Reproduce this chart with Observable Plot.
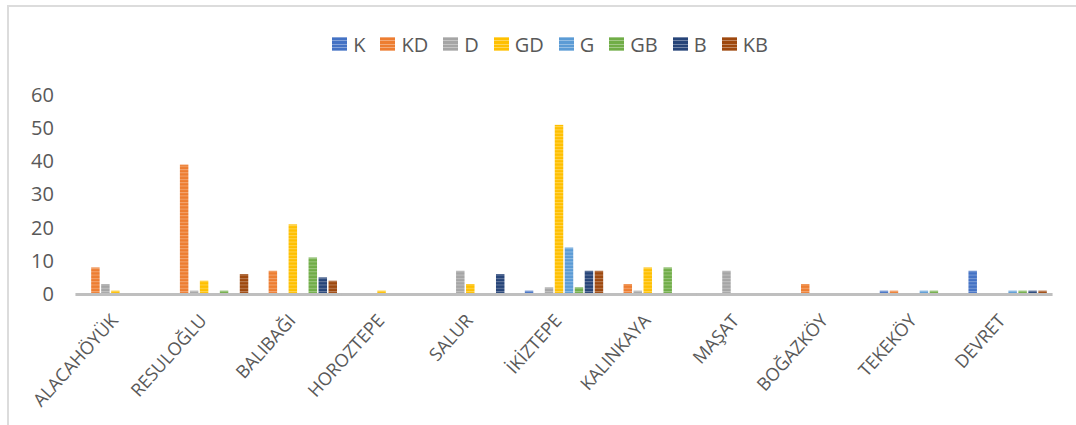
<!DOCTYPE html>
<html><head><meta charset="utf-8">
<script src="https://cdn.jsdelivr.net/npm/d3@7"></script>
<script src="https://cdn.jsdelivr.net/npm/@observablehq/plot@0.6"></script>
<style>
body{margin:0;background:#fff;font-family:"Open Sans",sans-serif;}
#wrap{position:relative;width:1076px;height:425px;overflow:hidden;background:#fff;}
#frame{position:absolute;left:7px;top:5px;width:1200px;height:600px;border-top:2px solid #dcdcdc;border-left:2px solid #dcdcdc;pointer-events:none;}
#legend{height:70px;box-sizing:border-box;padding-top:18px;padding-left:24px;display:flex;justify-content:center;align-items:center;gap:15px;font-size:20px;color:#595959;}
.item{display:flex;align-items:center;gap:6px;}
.sw{width:15px;height:14px;}
#chart svg{display:block;}
</style></head><body>
<div id="wrap"><div id="frame"></div><div id="legend"></div><div id="chart"></div></div>
<script>
const sites = ["ALACAHÖYÜK","RESULOĞLU","BALIBAĞI","HOROZTEPE","SALUR","İKİZTEPE","KALINKAYA","MAŞAT","BOĞAZKÖY","TEKEKÖY","DEVRET"];
const series = ["K","KD","D","GD","G","GB","B","KB"];
const colors = ["#4472C4","#ED7D31","#A5A5A5","#FFC000","#5B9BD5","#70AD47","#264478","#9E480E"];
const K  = [0, 0, 0, 0, 0, 1, 0, 0, 0, 1, 7];
const KD = [8, 39, 7, 0, 0, 0, 3, 0, 3, 1, 0];
const D  = [3, 1, 0, 0, 7, 2, 1, 7, 0, 0, 0];
const GD = [1, 4, 21, 1, 3, 51, 8, 0, 0, 0, 0];
const G  = [0, 0, 0, 0, 0, 14, 0, 0, 0, 1, 1];
const GB = [0, 1, 11, 0, 0, 2, 8, 0, 0, 1, 1];
const B  = [0, 0, 5, 0, 6, 7, 0, 0, 0, 0, 1];
const KB = [0, 6, 4, 0, 0, 7, 0, 0, 0, 0, 1];
const yTicks = [0, 10, 20, 30, 40, 50, 60];

const values = {K, KD, D, GD, G, GB, B, KB};
const data = sites.flatMap((site, i) => series.map(s => ({site, series: s, value: values[s][i]})));

// legend
const legend = document.getElementById("legend");
series.forEach((s, i) => {
  const it = document.createElement("div"); it.className = "item";
  const sw = document.createElement("div"); sw.className = "sw";
  sw.style.background = `repeating-linear-gradient(to bottom, rgba(255,255,255,0.35) 0 1px, ${colors[i]} 1px 3.3px), ${colors[i]}`;
  const t = document.createElement("span"); t.textContent = s;
  it.append(sw, t); legend.append(it);
});

const plot = Plot.plot({
  width: 1076, height: 355,
  marginTop: 25, marginBottom: 131, marginLeft: 76, marginRight: 24,
  style: {fontFamily: "'Open Sans', sans-serif", color: "#595959", background: "transparent", overflow: "visible"},
  fx: {domain: sites, paddingInner: 0.1, paddingOuter: 0.05, round: false, label: null},
  x: {domain: series, paddingInner: 0.15, paddingOuter: 0.075, round: false, axis: null},
  y: {domain: [0, 60], label: null},
  marks: [
    ...series.map(s => Plot.barY(data.filter(d => d.series === s && d.value > 0),
      {fx: "site", x: "series", y: "value", fill: `url(#p_${s})`})),
    Plot.ruleY([0], {stroke: "#bfbfbf", strokeWidth: 3, insetLeft: -5, insetRight: -5}),
    Plot.axisY(yTicks, {tickSize: 0, tickPadding: 27, fontSize: 20, label: null}),
    Plot.axisFx({anchor: "bottom", tickRotate: -48, tickSize: 0, tickPadding: 23, dx: -6, fontSize: 18, label: null})
  ]
});
document.getElementById("chart").append(plot);

const svg = d3.select(plot.tagName.toLowerCase() === "svg" ? plot : plot.querySelector("svg"));
const defs = svg.insert("defs", ":first-child");
series.forEach((s, i) => {
  const p = defs.append("pattern").attr("id", `p_${s}`).attr("patternUnits", "userSpaceOnUse")
    .attr("width", 10).attr("height", 3.3);
  p.append("rect").attr("width", 10).attr("height", 3.3).attr("fill", colors[i]);
  p.append("rect").attr("width", 10).attr("height", 1).attr("fill", "#fff").attr("fill-opacity", 0.3);
});
</script>
</body></html>
